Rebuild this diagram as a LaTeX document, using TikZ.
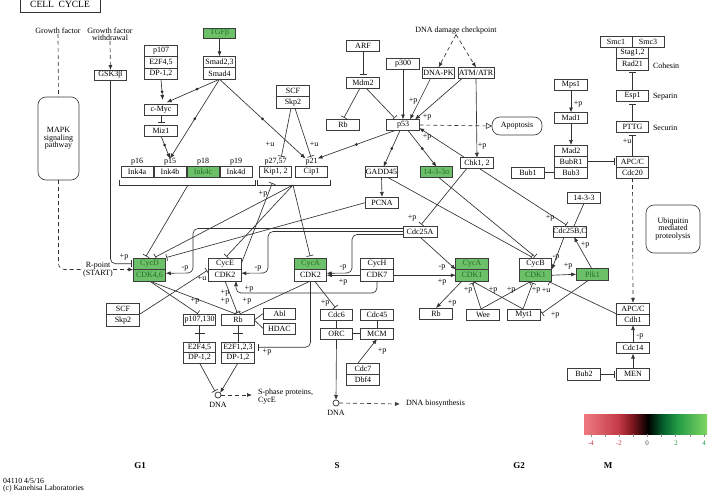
\documentclass[tikz,border=0pt]{standalone}
\usepackage{fontspec}
\setmainfont{Liberation Serif}
\usetikzlibrary{arrows.meta,calc}
\pgfdeclarelayer{bgw}
\pgfdeclarelayer{bg}
\pgfsetlayers{bgw,bg,main}
\definecolor{kg}{RGB}{108,192,104}
\definecolor{kgt}{RGB}{38,110,42}
\definecolor{bc}{RGB}{60,60,60}
\definecolor{lc}{RGB}{50,50,50}
\definecolor{cbA}{RGB}{236,118,124}
\definecolor{cbB}{RGB}{196,58,70}
\definecolor{cbC}{RGB}{120,20,28}
\definecolor{cbD}{RGB}{5,95,45}
\definecolor{cbE}{RGB}{35,155,70}
\definecolor{cbF}{RGB}{128,214,98}
\pgfdeclarehorizontalshading{kbar}{100bp}{color(0bp)=(cbA); color(26bp)=(cbA); color(39bp)=(cbB); color(45bp)=(cbC); color(51bp)=(black); color(57bp)=(cbD); color(63bp)=(cbE); color(75bp)=(cbF); color(100bp)=(cbF)}
\newcommand{\klab}[4]{\node[tx] (#1) at (#2,#3) {#4};}
\begin{document}
\begin{tikzpicture}[x=1pt,y=-1pt,
 every node/.style={inner sep=0pt, outer sep=0pt},
 tx/.style={font=\fontsize{8}{8}\selectfont, text=black},
 tx2/.style={font=\fontsize{8}{7.5}\selectfont, text=black, align=center},
 bx/.style={draw=bc, line width=0.65pt, fill=white, minimum width=32.5pt, minimum height=11pt, font=\fontsize{8}{8}\selectfont, text=black},
 gbx/.style={bx, fill=kg, text=kgt},
 cn/.style={draw=lc, line width=0.65pt},
 arr/.style={cn, -{Latex[length=5pt,width=4pt]}},
 inh/.style={cn, -{Bar[width=7pt]}, shorten >=2pt},
 dsh/.style={cn, dash pattern=on 4pt off 3pt},
 emk/.style={circle, fill=black!85, minimum size=3pt},
 rbox/.style={draw=bc, line width=0.65pt, rounded corners=8pt},
]
\useasboundingbox (0,0) rectangle (708,498);
\begin{pgfonlayer}{bgw}
\fill[white] (0,0) rectangle (708,498);
\end{pgfonlayer}

% ---------- title and top-left
\node[draw=black!80, line width=0.8pt, minimum width=80pt, minimum height=16pt, font=\fontsize{9.5}{10}\selectfont] (title) at (60,4) {CELL\ \ CYCLE};
\node[tx] (gf) at (58,31) {Growth factor};
\node[tx2, font=\fontsize{8}{7}\selectfont] (gfw) at (110,34.5) {Growth factor\\withdrawal};
\node[rbox, minimum width=41pt, minimum height=83pt, tx2] (mapk) at (58.5,138.5) {MAPK\\signaling\\pathway};
\node[bx, minimum height=10pt] (gsk) at (110.5,75) {GSK3β};
\node[tx2, font=\fontsize{8}{7}\selectfont] (rpoint) at (98,269.5) {R-point\\(START)};

\node[bx, minimum height=11.5pt] (p107t) at (161,50.75) {p107};
\node[bx, minimum height=11.5pt] (e2f45t) at (161,62.25) {E2F4,5};
\node[bx, minimum height=11.5pt] (dp12t) at (161,73.75) {DP-1,2};
\node[gbx, minimum height=10pt] (tgfb) at (219.5,33) {TGFβ};
\node[bx, minimum height=11.5pt] (smad23) at (219.5,62) {Smad2,3};
\node[bx, minimum height=11.5pt] (smad4) at (219.5,73.5) {Smad4};
\node[bx] (cmyc) at (161,109.5) {c-Myc};
\node[bx] (miz1) at (161,130.5) {Miz1};

% ---------- Ink4 / Kip / Cip
\node[bx, minimum width=32pt, minimum height=10.5pt] (ink4a) at (137,172) {Ink4a};
\node[bx, minimum width=32pt, minimum height=10.5pt] (ink4b) at (170,172) {Ink4b};
\node[gbx, minimum width=32pt, minimum height=10.5pt] (ink4c) at (203,172) {Ink4c};
\node[bx, minimum width=32pt, minimum height=10.5pt] (ink4d) at (236,172) {Ink4d};
\klab{lp16}{137}{162}{p16}
\klab{lp15}{170}{162}{p15}
\klab{lp18}{203}{162}{p18}
\klab{lp19}{236}{162}{p19}
\node[bx, minimum width=32pt, minimum height=10.5pt] (kip12) at (275.5,172) {Kip1, 2};
\node[bx, minimum width=32pt, minimum height=10.5pt] (cip1) at (311.5,172) {Cip1};
\klab{lp27}{275.5}{162}{p27,57}
\klab{lp21}{311.5}{162}{p21}
\coordinate (inkb) at (188,185);
\coordinate (kipb) at (293,185);

\node[bx, minimum height=11.5pt] (scf1) at (293,91) {SCF};
\node[bx, minimum height=11.5pt] (skp2a) at (293,102.5) {Skp2};

% ---------- p53 area
\node[bx] (arf) at (363,46) {ARF};
\node[bx] (mdm2) at (363,82.5) {Mdm2};
\node[bx] (rbtop) at (343,125) {Rb};
\node[bx] (p300) at (403,64) {p300};
\node[bx] (p53) at (403,125) {p53};
\node[bx] (dnapk) at (438.5,73) {DNA-PK};
\node[bx, minimum width=36pt] (atm) at (476,73) {ATM/ATR};
\node[tx] (dnadmg) at (456,31) {DNA damage checkpoint};
\node[rbox, minimum width=50pt, minimum height=18pt, tx] (apop) at (517,126) {Apoptosis};
\node[bx, minimum height=10.5pt] (chk12) at (477,163) {Chk1, 2};
\node[bx, minimum height=10.5pt] (gadd45) at (381.5,172) {GADD45};
\node[gbx, minimum height=10.5pt] (sigma) at (436.5,172) {14-3-3σ};
\node[bx] (pcna) at (382,202.5) {PCNA};
\node[bx, minimum width=34pt] (cdc25a) at (420,231.5) {Cdc25A};

% ---------- main complexes row
\node[gbx, minimum height=11.5pt] (cycd) at (149.5,263.75) {CycD};
\node[gbx, minimum height=11.5pt] (cdk46) at (149.5,275.25) {CDK4,6};
\node[bx, minimum height=11.5pt] (cyce) at (225,263.75) {CycE};
\node[bx, minimum height=11.5pt] (cdk2e) at (225,275.25) {CDK2};
\node[gbx, minimum height=11.5pt] (cyca) at (310.5,263.75) {CycA};
\node[bx, minimum height=11.5pt] (cdk2a) at (310.5,275.25) {CDK2};
\node[bx, minimum height=11.5pt] (cych) at (377,263.75) {CycH};
\node[bx, minimum height=11.5pt] (cdk7) at (377,275.25) {CDK7};
\node[gbx, minimum height=11.5pt] (cyca1) at (472,263.75) {CycA};
\node[gbx, minimum height=11.5pt] (cdk1a) at (472,275.25) {CDK1};
\node[bx, minimum height=11.5pt] (cycb) at (535.5,263.75) {CycB};
\node[gbx, minimum height=11.5pt] (cdk1b) at (535.5,275.25) {CDK1};
\node[gbx, minimum height=12pt] (plk1) at (592.5,274.25) {Plk1};
\node[bx] (cdc25bc) at (570,231.5) {Cdc25B,C};
\node[bx, minimum height=10.5pt] (s1433) at (584,198) {14-3-3};

% ---------- lower left
\node[bx, minimum height=11.5pt] (scf2) at (123,308.75) {SCF};
\node[bx, minimum height=11.5pt] (skp2b) at (123,320.25) {Skp2};
\node[bx, minimum height=10.5pt] (p107b) at (199.5,320) {p107,130};
\node[bx, minimum height=10.5pt] (rbl) at (238,320) {Rb};
\node[bx] (abl) at (279.5,313.5) {Abl};
\node[bx] (hdac) at (279.5,328.5) {HDAC};
\node[bx, minimum height=10.5pt] (e2f45b) at (199.5,347.25) {E2F4,5};
\node[bx, minimum height=10.5pt] (dp12b) at (199.5,357.75) {DP-1,2};
\node[bx, minimum height=10.5pt] (e2f123) at (238,347.25) {E2F1,2,3};
\node[bx, minimum height=10.5pt] (dp12c) at (238,357.75) {DP-1,2};
\node[circle, draw=lc, line width=0.7pt, minimum size=6pt, fill=white] (dna1) at (218,395) {};
\klab{ldna1}{218}{405}{DNA}
\node[tx, align=left, anchor=west, font=\fontsize{8}{8}\selectfont] (sphase) at (258,397) {S-phase proteins,\\CycE};

% ---------- S region
\node[bx] (cdc6) at (336.5,314.5) {Cdc6};
\node[bx] (orc) at (336.5,333.5) {ORC};
\node[bx] (cdc45) at (377,314.5) {Cdc45};
\node[bx] (mcm) at (377,333.5) {MCM};
\node[bx] (cdc7) at (363,368.5) {Cdc7};
\node[bx] (dbf4) at (363,379.5) {Dbf4};
\node[circle, draw=lc, line width=0.7pt, minimum size=6pt, fill=white] (dna2) at (336,403) {};
\klab{ldna2}{336}{413}{DNA}
\node[tx, anchor=west] (dnabio) at (406,404) {DNA biosynthesis};

% ---------- G2 / M
\node[bx] (rbr) at (436,313.5) {Rb};
\node[bx] (wee) at (483,314.5) {Wee};
\node[bx] (myt1) at (524,314.5) {Myt1};
\node[bx] (apcc2) at (633,308.5) {APC/C};
\node[bx] (cdh1) at (633,319.5) {Cdh1};
\node[bx] (cdc14) at (633,348) {Cdc14};
\node[bx, minimum height=12pt] (men) at (633,374) {MEN};
\node[bx, minimum height=12pt] (bub2) at (584,374) {Bub2};
\node[rbox, minimum width=54pt, minimum height=48pt, tx2] (ubq) at (673,229) {Ubiquitin\\mediated\\proteolysis};
\node[bx, minimum width=32pt] (smc1) at (616,41.5) {Smc1};
\node[bx, minimum width=32pt] (smc3) at (648,41.5) {Smc3};
\node[bx] (stag) at (632.5,52.5) {Stag1,2};
\node[bx, minimum height=12pt] (rad21) at (632.5,64) {Rad21};
\node[tx, anchor=west] (lcoh) at (653,66) {Cohesin};
\node[bx] (esp1) at (632.5,96) {Esp1};
\node[tx, anchor=west] (lsep) at (653,97) {Separin};
\node[bx] (pttg) at (632.5,127) {PTTG};
\node[tx, anchor=west] (lsec) at (653,128) {Securin};
\node[bx] (apcc1) at (632.5,161.5) {APC/C};
\node[bx] (cdc20) at (632.5,172.5) {Cdc20};
\node[bx] (mps1) at (571,84.5) {Mps1};
\node[bx] (mad1) at (571,118) {Mad1};
\node[bx] (mad2) at (571,150.5) {Mad2};
\node[bx] (bubr1) at (571,161.5) {BubR1};
\node[bx] (bub3) at (571,172.5) {Bub3};
\node[bx] (bub1) at (528,172.5) {Bub1};

% ---------- phase labels, footer
\node[font=\bfseries\fontsize{9}{9}\selectfont] (g1) at (140,466) {G1};
\node[font=\bfseries\fontsize{9}{9}\selectfont] (sph) at (337,466) {S};
\node[font=\bfseries\fontsize{9}{9}\selectfont] (g2) at (519,466) {G2};
\node[font=\bfseries\fontsize{9}{9}\selectfont] (mph) at (608,466) {M};
\node[anchor=west, font=\fontsize{7.8}{8}\selectfont] (ver) at (3,481) {04110 4/5/16};
\node[anchor=west, font=\fontsize{7.8}{8}\selectfont] (kan) at (3,489) {(c) Kanehisa Laboratories};

% ---------- colour bar
\shade[shading=kbar] (584,414) rectangle (707,434);
\foreach \k in {0,...,8} {\draw[black!45, line width=0.4pt] (591+\k*14.1,434) -- (591+\k*14.1,436.5);}
\node[font=\fontsize{7}{7}\selectfont, text=cbB] (tm4) at (591,443) {-4};
\node[font=\fontsize{7}{7}\selectfont, text=cbB] (tm2) at (619,443) {-2};
\node[font=\fontsize{7}{7}\selectfont, text=black!70] (t0) at (647,443) {0};
\node[font=\fontsize{7}{7}\selectfont, text=cbE] (tp2) at (676,443) {2};
\node[font=\fontsize{7}{7}\selectfont, text=cbE] (tp4) at (704,443) {4};

% ---------- edge labels
\klab{a1}{124}{257}{+p}
\klab{a2}{270}{144}{+u}
\klab{a3}{314}{144}{+u}
\klab{a4}{413}{101}{+p}
\klab{a5}{427}{117}{+p}
\klab{a6}{427}{137}{+p}
\klab{a7}{482}{146}{+p}
\klab{a8}{412}{218}{+p}
\klab{a9}{550}{218}{+p}
\klab{a10}{556}{257}{-p}
\klab{a11}{568}{266}{+p}
\klab{a12}{585}{245}{+p}
\klab{a13}{555}{315}{+p}
\klab{a14}{546}{290}{+u}
\klab{a15}{468}{290}{+p}
\klab{a16}{493}{290}{+p}
\klab{a17}{511}{290}{+p}
\klab{a18}{536}{290}{+p}
\klab{a19}{452}{303}{+p}
\klab{a20}{442}{267}{-p}
\klab{a21}{442}{282}{+p}
\klab{a22}{343}{282}{+p}
\klab{a23}{343}{267}{-p}
\klab{a24}{258}{268}{-p}
\klab{a25}{185}{268}{-p}
\klab{a26}{249}{289}{+p}
\klab{a27}{202}{278}{+u}
\klab{a28}{263}{194}{+p}
\klab{a29}{195}{301}{+p}
\klab{a30}{225}{293}{+p}
\klab{a31}{225}{301}{+p}
\klab{a32}{247}{301}{+p}
\klab{a33}{325}{303}{+p}
\klab{a34}{267}{352}{+p}
\klab{a35}{382}{351}{+p}
\klab{a36}{578}{104}{+p}
\klab{a37}{627}{141}{+u}
\klab{a38}{640}{336}{-p}

% ---------- connectors
\begin{pgfonlayer}{bg}
\draw[cn] (119,180) |- (255,185) -- (255,180);
\draw[cn] (257,180) |- (330,185) -- (330,180);
\draw[dsh] (gf.south) -- (mapk.north);
\draw[dsh, -{Latex[length=5pt,width=4pt]}] (gfw.south) -- (gsk.north);
\draw[dsh, rounded corners=6pt] (mapk.south) |- (rpoint.west);
\draw[dsh, -{Latex[length=5pt,width=4pt]}] (rpoint.east) -- (cycd.south west);
\draw[inh, rounded corners=5pt] (gsk.south) |- (cycd.west);
\draw[arr] (tgfb.south) -- (smad23.north);
\draw[arr, shorten >=4pt] (dp12t.south) -- node[emk](e1){} ([xshift=2pt]cmyc.north);
\draw[arr, shorten >=4pt] (smad4.south) -- node[emk,pos=0.4](e2){} ([xshift=2pt]cmyc.north);
\draw[arr] (smad4.south) -- node[emk](e3){} (lp15.north);
\draw[arr] (miz1.south) -- node[emk,pos=0.4](e4){} (lp15.north);
\draw[inh] (cmyc.south) -- (miz1.north);
\draw[arr] (smad4.south) -- node[emk](e5){} ([xshift=-6pt]lp21.north);
\draw[inh] ([xshift=-2pt]skp2a.south) -- ([xshift=5.5pt]lp27.north);
\draw[inh] ([xshift=2pt]skp2a.south) -- (lp21.north);
\draw[inh] (arf.south) -- (mdm2.north);
\draw[inh] ([xshift=-3pt]mdm2.south) -- (rbtop.north);
\draw[inh] ([xshift=3pt]mdm2.south) -- ([xshift=-7pt]p53.north);
\draw[arr] (p300.south) -- (p53.north);
\draw[arr] ([xshift=-8pt]dnapk.south) -- ([xshift=7pt]p53.north);
\draw[arr] ([xshift=-14pt]atm.south) -- ([xshift=12pt]p53.north);
\draw[dsh, -{Latex[length=5pt,width=4pt]}] (dnadmg.south) -- (dnapk.north);
\draw[dsh, -{Latex[length=5pt,width=4pt]}] (dnadmg.south) -- (atm.north);
\draw[dsh, -{Triangle[open,length=6pt,width=6pt]}] (p53.east) -- (apop.west);
\draw[arr] (atm.south) -- (chk12.north);
\draw[arr] ([xshift=-12pt]chk12.north) -- ([yshift=-3pt]p53.east);
\draw[arr] ([xshift=-8pt]p53.south) -- node[emk](e6){} ([xshift=6pt]lp21.north);
\draw[arr] ([xshift=-3pt]p53.south) -- node[emk](e7){} ([xshift=2pt]gadd45.north);
\draw[arr] ([xshift=5pt]p53.south) -- node[emk](e8){} (sigma.north);
\draw[arr] (gadd45.south) -- (pcna.north);
\draw[inh] ([xshift=-10pt]chk12.south) -- (cdc25a.north);
\draw[inh] ([xshift=2pt]chk12.south) -- ([xshift=-2pt]cdc25bc.north);
\draw[inh] ([xshift=6pt]gadd45.south) -- ([xshift=-2pt]cycb.north);
\draw[inh] ([xshift=2pt]sigma.south) -- ([xshift=1pt]cycb.north);
\draw[cn] (s1433.south) -- ([xshift=4pt]cdc25bc.north);
\draw[arr] ([xshift=-6pt]cdc25bc.south) -- (cdk1b.north east);
\draw[arr] (cdk1b.east) -- (plk1.west);
\draw[arr] ([xshift=-1pt]plk1.north) -- ([xshift=4pt]cdc25bc.south);
\draw[inh] ([xshift=-4pt]plk1.south) -- (myt1.east);
\draw[inh] (apcc2.south west) -- ([xshift=12pt]cdk1b.south);
\draw[dsh, -{Latex[length=5pt,width=4pt]}] (cdc20.south) -- (apcc2.north);
\draw[inh] ([xshift=-2pt]wee.north) -- (cdk1a.south);
\draw[inh] ([xshift=-2pt]wee.north) -- ([xshift=-4pt]cdk1b.south);
\draw[inh] ([xshift=-1pt]myt1.north) -- (cdk1a.south);
\draw[inh] ([xshift=-1pt]myt1.north) -- ([xshift=-2pt]cdk1b.south);
\draw[arr] ([xshift=-10pt]cdk1a.south) -- (rbr.north);
\draw[arr] (cdc25a.south) -- (cyca1.south west);
\draw[arr] (cdk7.east) -- (cdk1a.west);
\draw[arr] (cdk7.west) -- (cdk2a.east);
\draw[arr, rounded corners=5pt] ([yshift=-3pt]cdc25a.west) -- (352,234.5) -- (352,273) -- ([yshift=2pt]cdk2a.east);
\draw[arr, rounded corners=5pt] (cdc25a.west) -- (268,231.5) -- (268,273) -- ([yshift=2pt]cdk2e.east);
\draw[arr, rounded corners=5pt] ([yshift=3pt]cdc25a.west) -- (193,228.5) -- (193,273) -- ([yshift=2pt]cdk46.east);
\draw[arr, rounded corners=5pt] (cdk7.south) -- ++(0,12) -| ([xshift=11pt]cdk2e.south);
\draw[inh] (skp2b.north east) -- (cyce.south west);
\draw[inh] (inkb) -- ([xshift=-4.5pt]cycd.north);
\draw[inh] (kipb) -- ([xshift=4pt]cycd.north);
\draw[inh] (pcna.west) -- ([xshift=15pt]cycd.north);
\draw[inh] (kipb) -- (cyce.north);
\draw[inh] (kipb) -- (cyca.north);
\draw[inh] (cyce.east) -- ([xshift=-2.5pt,yshift=-4pt]kip12.south);
\draw[inh] (cdk46.south) -- (p107b.north);
\draw[inh] (cdk46.south) -- (rbl.north);
\draw[inh] (cdk2e.south) -- (rbl.north);
\draw[inh] (cdk2a.south) -- (rbl.north);
\draw[inh] ([xshift=4pt]cdk2a.south) -- (cdc6.north);
\draw[inh, rounded corners=5pt, shorten >=4pt] (cdk2a.south) |- (e2f123.east);
\draw[cn] (p107b.south) -- (e2f45b.north);
\draw[cn] ($(p107b.south)!0.5!(e2f45b.north)$) +(-5,0) -- +(5,0);
\draw[cn] (rbl.south) -- (e2f123.north);
\draw[cn] ($(rbl.south)!0.5!(e2f123.north)$) +(-5,0) -- +(5,0);
\draw[cn] (rbl.east) -- (abl.west);
\draw[cn] (rbl.east) -- (hdac.west);
\draw[inh] (dp12b.south) -- (dna1.north west);
\draw[arr] (dp12c.south) -- (dna1.north east);
\draw[dsh, -{Latex[length=5pt,width=4pt]}] (dna1.east) -- ([xshift=-6pt,yshift=2pt]sphase.west);
\draw[cn] (cdc6.south) -- (orc.north);
\draw[cn] (cdc45.south) -- (mcm.north);
\draw[cn] (orc.east) -- (mcm.west);
\draw[arr] (orc.south) -- (dna2.north);
\draw[arr] ([xshift=-5pt]cdc7.north) -- (mcm.south);
\draw[dsh, -{Latex[length=5pt,width=4pt]}] (dna2.east) -- ([xshift=-6pt]dnabio.west);
\draw[arr] (mps1.south) -- (mad1.north);
\draw[arr] (mad1.south) -- (mad2.north);
\draw[cn] (bub1.east) -- (bub3.west);
\draw[inh] (bubr1.east) -- (apcc1.west);
\draw[inh] (esp1.north) -- (rad21.south);
\draw[inh] (pttg.north) -- (esp1.south);
\draw[inh] (apcc1.north) -- (pttg.south);
\draw[arr] (cdc14.north) -- (cdh1.south);
\draw[arr] (men.north) -- (cdc14.south);
\draw[inh] (bub2.east) -- (men.west);
\end{pgfonlayer}
\end{tikzpicture}
\end{document}
